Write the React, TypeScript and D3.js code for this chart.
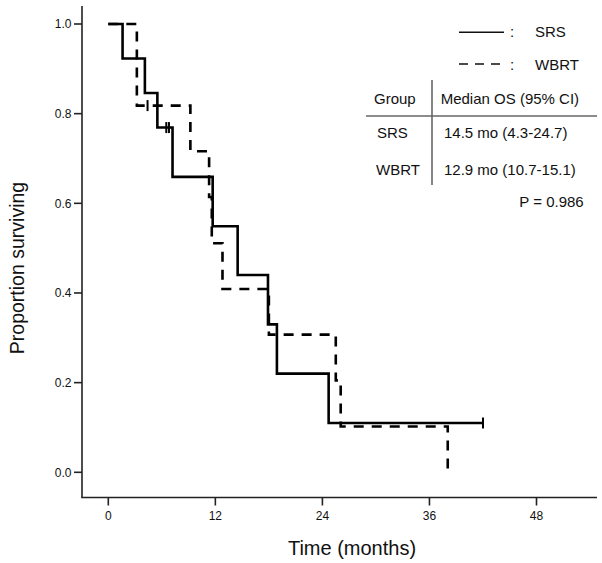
import React from "react";
import * as d3 from "d3";

// ---- Data ----
const srsTimes = [0, 1.6, 4.1, 5.5, 7.2, 11.7, 14.5, 17.9, 18.9, 24.7];
const srsSurv = [1.0, 0.923, 0.846, 0.769, 0.659, 0.549, 0.44, 0.33, 0.22, 0.11];
const srsEnd = 42.0;
const srsCensor = [6.5, 6.8, 42.0];

const wbrtTimes = [0, 3.2, 9.2, 11.3, 11.6, 12.8, 18.0, 25.5, 26.05, 38.05];
const wbrtSurv = [1.0, 0.818, 0.716, 0.614, 0.511, 0.409, 0.307, 0.205, 0.102, 0.0];
const wbrtEnd = 38.05;
const wbrtCensor = [4.4];

const xTicks = [0, 12, 24, 36, 48];
const yTicks = [0, 0.2, 0.4, 0.6, 0.8, 1.0];

const legendLabels = ["SRS", "WBRT"];
const tableHeader = ["Group", "Median OS (95% CI)"];
const tableGroups = ["SRS", "WBRT"];
const tableMedians = ["14.5 mo (4.3-24.7)", "12.9 mo (10.7-15.1)"];
const pValueText = "P = 0.986";

const FONT = "'Liberation Sans', Arial, Helvetica, sans-serif";

function stepPoints(times: number[], surv: number[], end: number): [number, number][] {
  const pts: [number, number][] = [];
  for (let i = 0; i < times.length; i++) {
    pts.push([times[i], surv[i]]);
  }
  if (end > times[times.length - 1]) pts.push([end, surv[surv.length - 1]]);
  return pts;
}

function survAt(times: number[], surv: number[], t: number) {
  let s = surv[0];
  for (let i = 0; i < times.length; i++) if (times[i] <= t) s = surv[i];
  return s;
}

export default function App() {
  const W = 602;
  const H = 563;
  const x = d3.scaleLinear().domain([0, 48]).range([108.3, 536.5]);
  const y = d3.scaleLinear().domain([0, 1]).range([472.3, 24]);

  const line = d3
    .line<[number, number]>()
    .x((d) => x(d[0]))
    .y((d) => y(d[1]))
    .curve(d3.curveStepAfter);

  const srsPath = line(stepPoints(srsTimes, srsSurv, srsEnd)) || "";
  const wbrtPath = line(stepPoints(wbrtTimes, wbrtSurv, wbrtEnd)) || "";

  const axisColor = "#222";
  const tableColor = "#666";

  return (
    <svg
      width={W}
      height={H}
      style={{ position: "absolute", left: 0, top: 0, background: "#fff" }}
      fontFamily={FONT}
    >
      <rect x={0} y={0} width={W} height={H} fill="#fff" />
      {/* axes */}
      <line x1={82} y1={6} x2={82} y2={497.5} stroke={axisColor} strokeWidth={1.6} />
      <line x1={81.2} y1={497.5} x2={597} y2={497.5} stroke={axisColor} strokeWidth={1.6} />
      {yTicks.map((t) => (
        <g key={"y" + t}>
          <line x1={74} x2={82} y1={y(t)} y2={y(t)} stroke={axisColor} strokeWidth={1.6} />
          <text x={71.5} y={y(t) + 4.3} fontSize={12} textAnchor="end" fill="#111">
            {t.toFixed(1)}
          </text>
        </g>
      ))}
      {xTicks.map((t) => (
        <g key={"x" + t}>
          <line x1={x(t)} x2={x(t)} y1={497.5} y2={505.5} stroke={axisColor} strokeWidth={1.6} />
          <text x={x(t)} y={519.5} fontSize={12} textAnchor="middle" fill="#111">
            {t}
          </text>
        </g>
      ))}
      <text x={352} y={555} fontSize={20} textAnchor="middle" fill="#111">
        Time (months)
      </text>
      <text
        transform={`translate(24,268) rotate(-90)`}
        fontSize={19.5}
        textAnchor="middle"
        fill="#111"
      >
        Proportion surviving
      </text>

      {/* curves */}
      <path d={wbrtPath} fill="none" stroke="#000" strokeWidth={2.6} strokeDasharray="10,8" />
      <path d={srsPath} fill="none" stroke="#000" strokeWidth={2.6} />
      {srsCensor.map((c, i) => (
        <line
          key={"sc" + i}
          x1={x(c)}
          x2={x(c)}
          y1={y(survAt(srsTimes, srsSurv, c)) - 5.5}
          y2={y(survAt(srsTimes, srsSurv, c)) + 5.5}
          stroke="#000"
          strokeWidth={2}
        />
      ))}
      {wbrtCensor.map((c, i) => (
        <line
          key={"wc" + i}
          x1={x(c)}
          x2={x(c)}
          y1={y(survAt(wbrtTimes, wbrtSurv, c)) - 5.5}
          y2={y(survAt(wbrtTimes, wbrtSurv, c)) + 5.5}
          stroke="#000"
          strokeWidth={2}
        />
      ))}

      {/* legend */}
      <line x1={459} x2={504} y1={32.3} y2={32.3} stroke="#111" strokeWidth={1.6} />
      <text x={510} y={37} fontSize={15} fill="#111">:</text>
      <text x={535} y={37} fontSize={15} fill="#111">{legendLabels[0]}</text>
      <line x1={459} x2={504} y1={64} y2={64} stroke="#111" strokeWidth={1.6} strokeDasharray="9,7" />
      <text x={510} y={70} fontSize={15} fill="#111">:</text>
      <text x={535} y={70} fontSize={15} fill="#111">{legendLabels[1]}</text>

      {/* table */}
      <line x1={432} x2={432} y1={80} y2={185} stroke={tableColor} strokeWidth={1.6} />
      <line x1={366} x2={597} y1={116} y2={116} stroke={tableColor} strokeWidth={1.6} />
      <text x={374} y={103.5} fontSize={15} fill="#111">{tableHeader[0]}</text>
      <text x={440.7} y={103.5} fontSize={15} fill="#111">{tableHeader[1]}</text>
      <text x={377} y={137.5} fontSize={15} fill="#111">{tableGroups[0]}</text>
      <text x={444} y={137.5} fontSize={15} fill="#111">{tableMedians[0]}</text>
      <text x={376} y={175} fontSize={15} fill="#111">{tableGroups[1]}</text>
      <text x={444} y={175} fontSize={15} fill="#111">{tableMedians[1]}</text>
      <text x={519.3} y={207} fontSize={15} fill="#111">{pValueText}</text>
    </svg>
  );
}
